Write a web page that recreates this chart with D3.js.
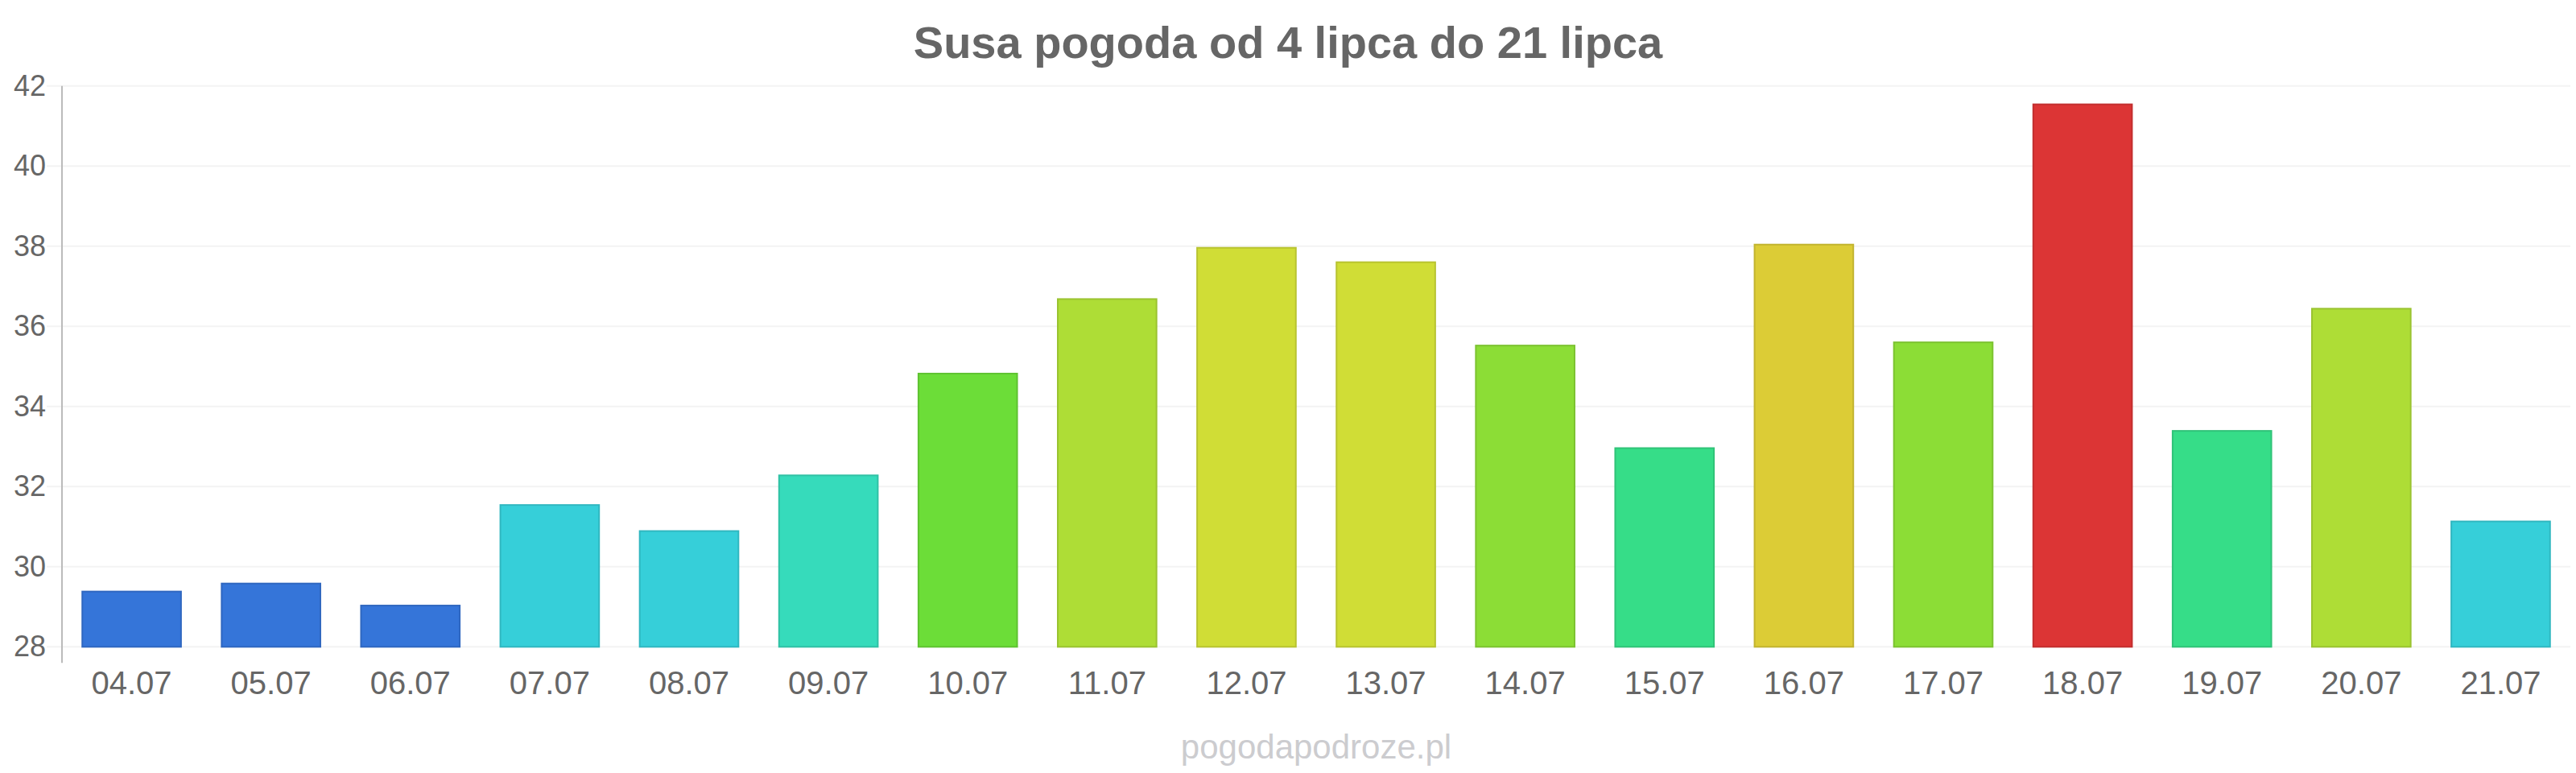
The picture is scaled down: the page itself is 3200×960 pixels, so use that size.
<!DOCTYPE html>
<meta charset="utf-8">
<style>
body {
  margin: 0;
  background: #fff;
  font-family: "Liberation Sans", Arial, sans-serif;
}
.grid line {
  stroke: #f3f3f3;
  stroke-width: 2;
}
.axis text {
  fill: #666;
}
</style>
<body>
<script src="https://cdn.jsdelivr.net/npm/d3@7"></script>
<script>

var width = 3200,
    height = 960;

var days = ["04.07", "05.07", "06.07", "07.07", "08.07", "09.07", "10.07", "11.07", "12.07",
            "13.07", "14.07", "15.07", "16.07", "17.07", "18.07", "19.07", "20.07", "21.07"];
var temps = [29.4, 29.6, 29.05, 31.56, 30.91, 32.3, 34.84, 36.7, 37.98,
             37.62, 35.54, 32.98, 38.06, 35.62, 41.56, 33.41, 36.46, 31.15];
var yTicks = [28, 30, 32, 34, 36, 38, 40, 42];

var title = "Susa pogoda od 4 lipca do 21 lipca";
var credit = "pogodapodroze.pl";

// temperature colour bands
var tempSteps = [30, 32, 32.5, 34, 35, 36, 37, 38, 39];
var tempColors = ["#3575d9", "#36cfd9", "#36dbbb", "#36dd88", "#6cdd38",
                  "#8cdd36", "#aedd36", "#d0dd36", "#dccc36", "#dc3535"];

var plotLeft = 77, plotRight = 3193, plotTop = 106.7, plotBottom = 803.3;

var x = d3.scaleBand()
    .domain(days)
    .range([plotLeft, plotRight])
    .paddingInner(0.28)
    .paddingOuter(0.14);

var y = d3.scaleLinear()
    .domain([28, 42])
    .range([plotBottom, plotTop]);

var color = d3.scaleThreshold()
    .domain(tempSteps)
    .range(tempColors);

var svg = d3.select("body").append("svg")
    .attr("width", width)
    .attr("height", height);

// gridlines
svg.append("g")
    .attr("class", "grid")
  .selectAll("line")
    .data(yTicks)
  .enter().append("line")
    .attr("x1", 58)
    .attr("x2", plotRight)
    .attr("y1", function(d) { return y(d); })
    .attr("y2", function(d) { return y(d); });

// bars
svg.append("g")
  .selectAll("rect")
    .data(temps)
  .enter().append("rect")
    .attr("x", function(d, i) { return x(days[i]) + 1; })
    .attr("y", function(d) { return y(d) + 1; })
    .attr("width", x.bandwidth() - 2)
    .attr("height", function(d) { return y(28) - y(d) - 1; })
    .attr("fill", function(d) { return color(d); })
    .attr("stroke", function(d) { return d3.color(color(d)).darker(0.35); })
    .attr("stroke-width", 2);

// y axis
var yAxis = svg.append("g")
    .attr("class", "axis")
    .attr("transform", "translate(" + plotLeft + ",0)")
    .call(d3.axisLeft(y).tickValues(yTicks).tickSize(0).tickPadding(20));
yAxis.select(".domain").remove();
yAxis.selectAll("text")
    .style("font-size", "36px")
    .style("font-family", "Liberation Sans, Arial, sans-serif");
yAxis.append("line")
    .attr("x1", 0).attr("x2", 0)
    .attr("y1", plotTop).attr("y2", plotBottom + 20)
    .attr("stroke", "#bbb")
    .attr("stroke-width", 2);

// x axis
var xAxis = svg.append("g")
    .attr("class", "axis")
    .attr("transform", "translate(0," + plotBottom + ")")
    .call(d3.axisBottom(x).tickSize(0).tickPadding(30));
xAxis.select(".domain").remove();
xAxis.selectAll("text")
    .style("font-size", "40px")
    .style("font-family", "Liberation Sans, Arial, sans-serif");

// title
svg.append("text")
    .attr("x", width / 2)
    .attr("y", 72)
    .attr("text-anchor", "middle")
    .attr("fill", "#666")
    .style("font-size", "56px")
    .style("font-weight", "bold")
    .text(title);

// credit
svg.append("text")
    .attr("x", (plotLeft + plotRight) / 2)
    .attr("y", 942)
    .attr("text-anchor", "middle")
    .attr("fill", "#cccccf")
    .style("font-size", "42px")
    .text(credit);

</script>
